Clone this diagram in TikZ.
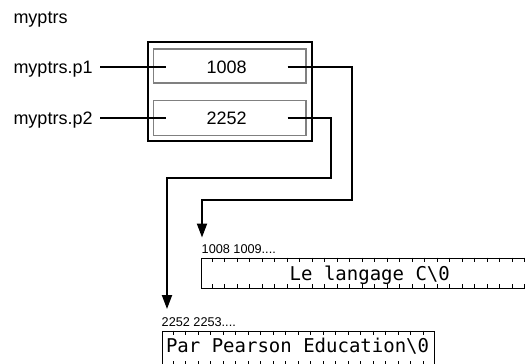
\documentclass[tikz,border=0pt]{standalone}
\usepackage{fontspec}
\setmainfont{Liberation Sans}
\newfontfamily\monofont{DejaVu Sans Mono}
\usetikzlibrary{arrows.meta}
\begin{document}
\begin{tikzpicture}[x=1pt,y=-1pt,
  lbl/.style={font=\fontsize{18}{21}\selectfont, inner sep=0pt, anchor=base west},
  val/.style={font=\fontsize{18}{21}\selectfont, inner sep=0pt, anchor=center},
  addr/.style={font=\fontsize{12.7}{15}\selectfont, inner sep=0pt, anchor=base west},
  memtxt/.style={font=\monofont\fontsize{19}{23}\selectfont, inner sep=0pt, anchor=base west},
  outerbox/.style={draw=black, line width=2pt, inner sep=0pt, anchor=north west},
  cellbox/.style={draw=gray, line width=1.5pt, inner sep=0pt, anchor=north west},
  stripbox/.style={draw=black, line width=1.2pt, inner sep=0pt, anchor=north west},
  wire/.style={draw=black, line width=2pt},
  ptr/.style={draw=black, line width=2pt, -{Triangle[length=14pt,width=10pt]}},
  tickmark/.style={draw=black, line width=0.9pt}]
\useasboundingbox (0,0) rectangle (525,364);

% structure
\node[lbl] (title) at (13.3,23.3) {myptrs};
\node[outerbox, minimum width=163.8pt, minimum height=99pt] (outer) at (146.7,41) {};
\node[cellbox, minimum width=152.3pt, minimum height=34pt] (c1) at (152.7,48) {};
\node[cellbox, minimum width=152.3pt, minimum height=35pt] (c2) at (152.7,99.7) {};
\node[val] (v1) at (226.7,67) {1008};
\node[val] (v2) at (226.7,118.6) {2252};
\node[lbl] (lp1) at (13.3,73.1) {myptrs.p1};
\node[lbl] (lp2) at (13.3,124.7) {myptrs.p2};

% label connectors
\coordinate (lp1s) at (100,66.7);
\coordinate (lp1e) at (166,66.7);
\coordinate (lp2s) at (100,118.3);
\coordinate (lp2e) at (166,118.3);
\draw[wire] (lp1s) -- (lp1e);
\draw[wire] (lp2s) -- (lp2e);

% memory strips
\node[stripbox, minimum width=340pt, minimum height=29.8pt] (s1) at (201,257.7) {};
\node[stripbox, minimum width=272.3pt, minimum height=35pt] (s2) at (161.7,330.7) {};
\foreach \k in {0,...,25} {
  \draw[tickmark] (212.3+12.5*\k,257.7) -- ++(0,4);
  \draw[tickmark] (212.3+12.5*\k,287.5) -- ++(0,-4);
}
\foreach \k in {0,...,20} {
  \draw[tickmark] (173.3+12.5*\k,330.7) -- ++(0,4);
  \draw[tickmark] (173.3+12.5*\k,365.7) -- ++(0,-4.5);
}
\node[addr] (a1) at (201.5,253.3) {1008 1009....};
\node[addr] (a2) at (161.5,326.6) {2252 2253....};
\node[memtxt] (m1) at (289.5,280.3) {Le langage C\textbackslash 0};
\node[memtxt] (m2) at (165.8,352) {Par Pearson Education\textbackslash 0};

% pointer connectors
\coordinate (p1s) at (287.7,66.7);
\coordinate (p1a) at (352.3,66.7);
\coordinate (p1b) at (352.3,200);
\coordinate (p1c) at (202,200);
\coordinate (p1t) at (202,237.5);
\coordinate (p2s) at (287.7,118.3);
\coordinate (p2a) at (330.5,118.3);
\coordinate (p2b) at (330.5,178);
\coordinate (p2c) at (167,178);
\coordinate (p2t) at (167,309);
\draw[ptr] (p1s) -- (p1a) -- (p1b) -- (p1c) -- (p1t);
\draw[ptr] (p2s) -- (p2a) -- (p2b) -- (p2c) -- (p2t);
\end{tikzpicture}
\end{document}
